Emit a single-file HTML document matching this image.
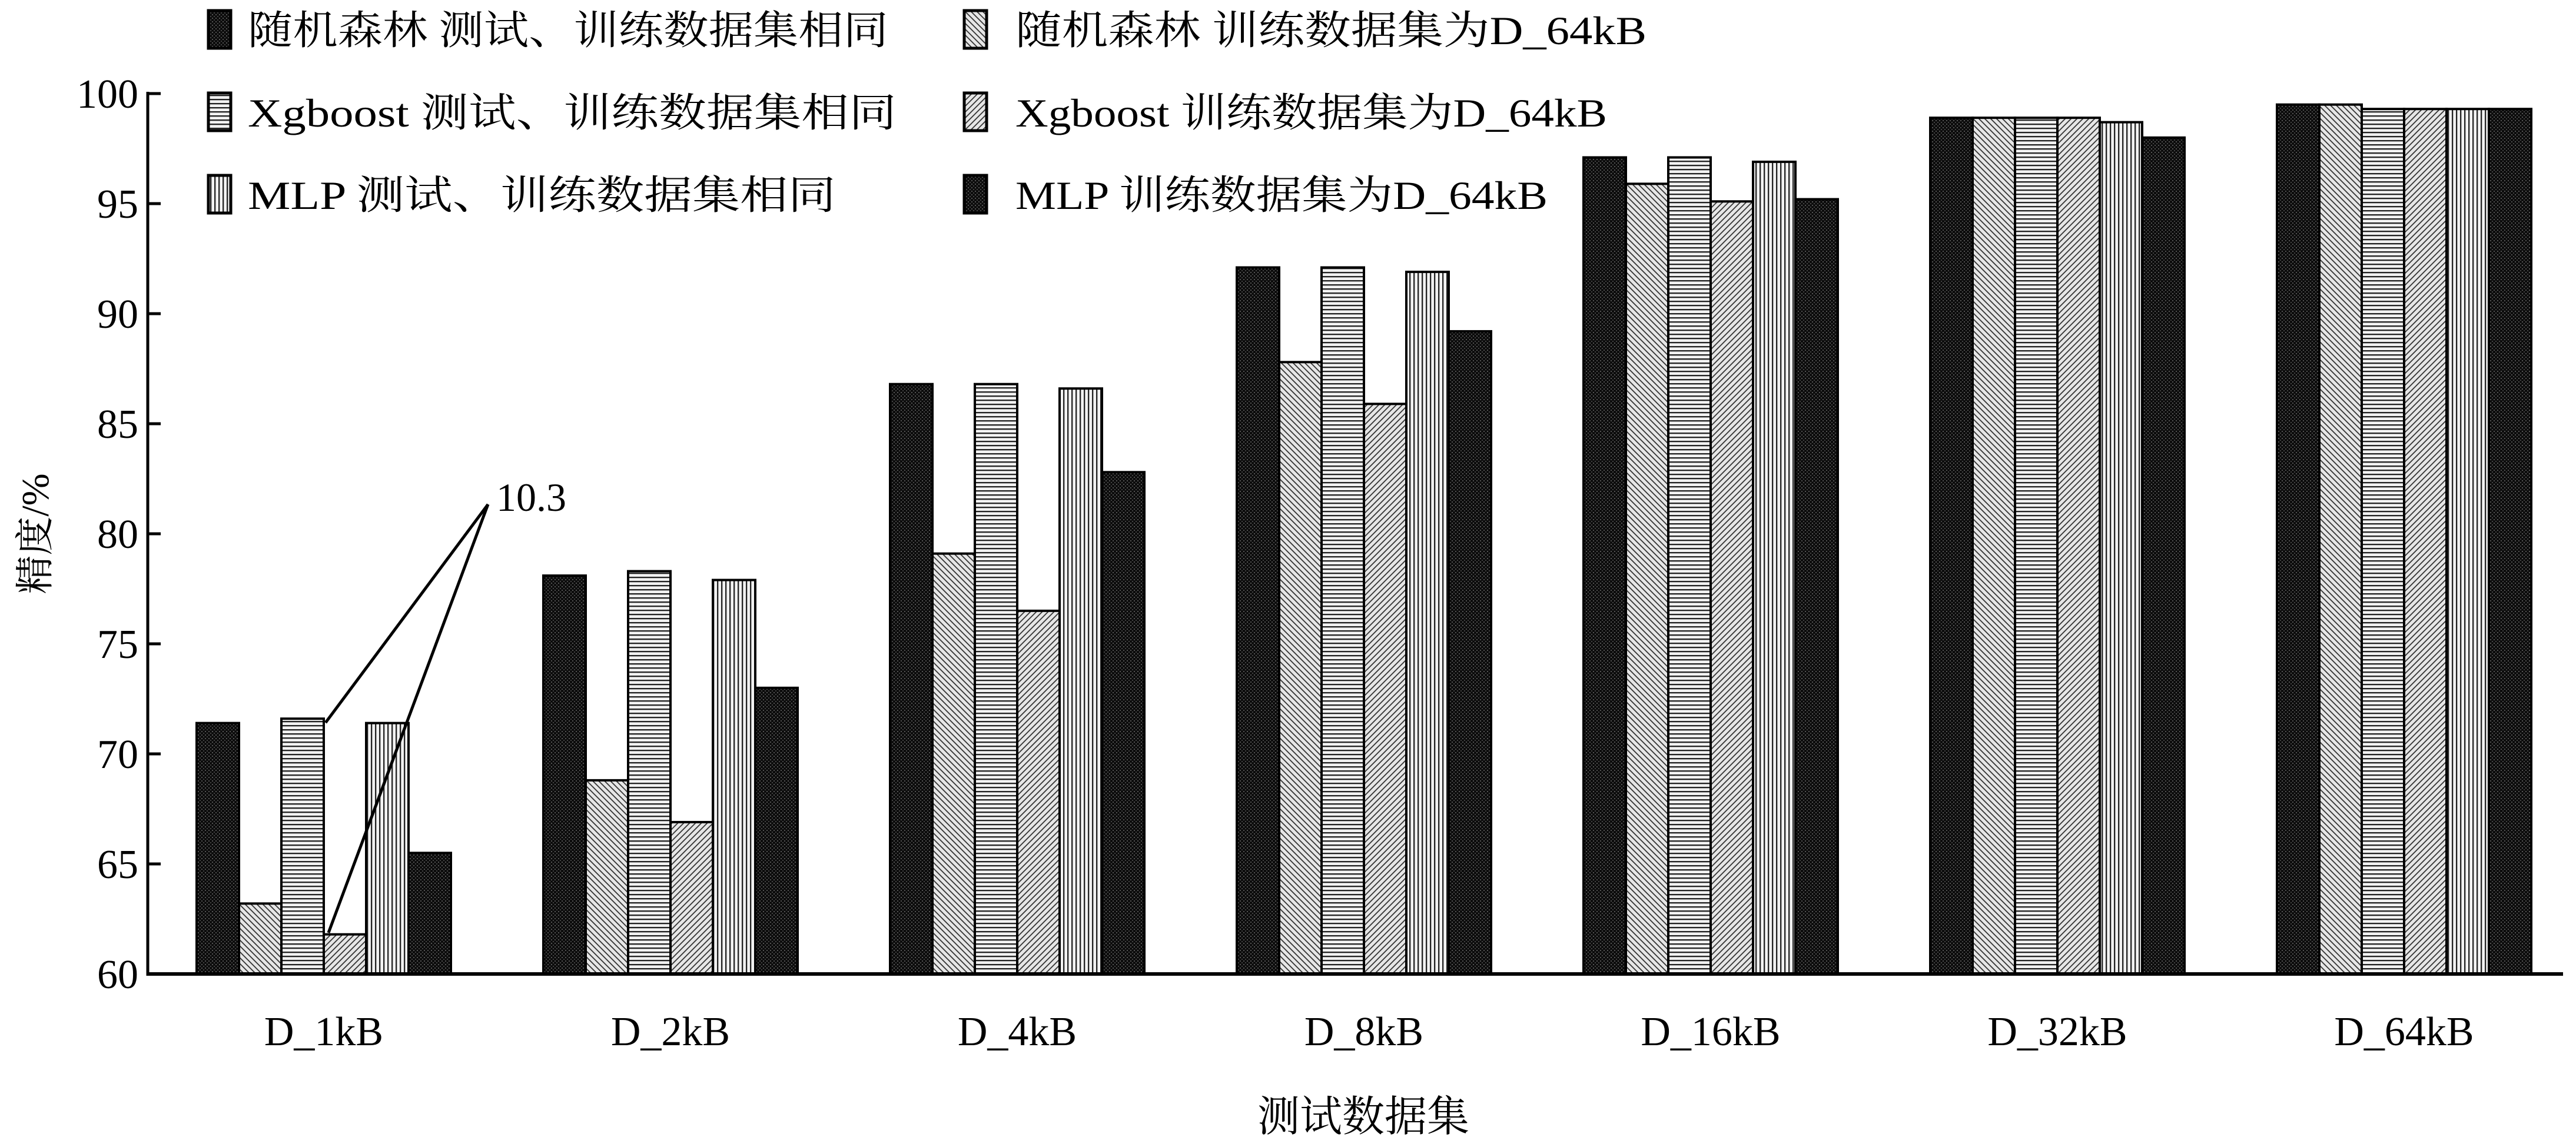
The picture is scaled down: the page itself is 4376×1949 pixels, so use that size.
<!DOCTYPE html>
<html><head><meta charset="utf-8"><style>
html,body{margin:0;padding:0;background:#fff;}
svg{display:block;}
text{font-family:"Liberation Serif","Noto Serif CJK SC","Noto Sans CJK SC",serif;fill:#000;}
</style></head><body>
<svg id="chart" width="4376" height="1949" viewBox="0 0 4376 1949" xmlns="http://www.w3.org/2000/svg">
<defs>
<pattern id="p-dark" patternUnits="userSpaceOnUse" width="6" height="6"><rect width="6" height="6" fill="#0c0c0c"/><rect x="0" y="0" width="2" height="2" fill="#555"/><rect x="3" y="3" width="2" height="2" fill="#444"/></pattern>
<pattern id="p-diag1" patternUnits="userSpaceOnUse" width="10" height="10"><rect width="10" height="10" fill="#e6e6e6"/><path d="M-2,-2 L12,12 M-2,8 L2,12 M8,-2 L12,2" stroke="#333" stroke-width="1.8"/></pattern>
<pattern id="p-horiz" patternUnits="userSpaceOnUse" width="8" height="7"><rect width="8" height="7" fill="#f2f2f2"/><rect y="0" width="8" height="2.3" fill="#222"/></pattern>
<pattern id="p-diag2" patternUnits="userSpaceOnUse" width="10" height="10"><rect width="10" height="10" fill="#e6e6e6"/><path d="M-2,12 L12,-2 M-2,2 L2,-2 M8,12 L12,8" stroke="#333" stroke-width="1.8"/></pattern>
<pattern id="p-vert" patternUnits="userSpaceOnUse" width="7" height="8"><rect width="7" height="8" fill="#f2f2f2"/><rect x="0" width="2.3" height="8" fill="#222"/></pattern>
</defs>
<g id="bars"></g>
<g id="axes"></g>
<g id="legend"></g>
<g>
<line x1="829" y1="857" x2="553" y2="1228" stroke="#000" stroke-width="5"/>
<line x1="829" y1="857" x2="558" y2="1585" stroke="#000" stroke-width="5"/>
<text x="843" y="868" font-size="68">10.3</text>
</g>
<text x="2316" y="1922" font-size="72" text-anchor="middle">测试数据集</text>
<text transform="translate(82,907) rotate(-90)" font-size="66" text-anchor="middle">精度/%</text>
</svg>
<script>
const categories = ["D_1kB","D_2kB","D_4kB","D_8kB","D_16kB","D_32kB","D_64kB"];
const seriesNames = ["随机森林 测试、训练数据集相同","随机森林 训练数据集为D_64kB","Xgboost 测试、训练数据集相同","Xgboost 训练数据集为D_64kB","MLP 测试、训练数据集相同","MLP 训练数据集为D_64kB"];
const rfSame = [71.4,78.1,86.8,92.1,97.1,98.9,99.5];
const rf64 = [63.2,68.8,79.1,87.8,95.9,98.9,99.5];
const xgSame = [71.6,78.3,86.8,92.1,97.1,98.9,99.3];
const xg64 = [61.8,66.9,76.5,85.9,95.1,98.9,99.3];
const mlpSame = [71.4,77.9,86.6,91.9,96.9,98.7,99.3];
const mlp64 = [65.5,73.0,82.8,89.2,95.2,98.0,99.3];
const yTicks = [60,65,70,75,80,85,90,95,100];

const series = [rfSame, rf64, xgSame, xg64, mlpSame, mlp64];
const fills = ["url(#p-dark)","url(#p-diag1)","url(#p-horiz)","url(#p-diag2)","url(#p-vert)","url(#p-dark)"];
const NS = "http://www.w3.org/2000/svg";
const X0 = 251, X1 = 4354, Y0 = 1655, Y1 = 159;
const yMin = 60, yMax = 100;
const groupStart = 550, groupStep = 589, barW = 72;
function yScale(v){ return Y0 - (v - yMin) / (yMax - yMin) * (Y0 - Y1); }
function xCenter(i){ return groupStart + i * groupStep; }
function mk(tag, attrs, parent){ const e = document.createElementNS(NS, tag); for (const k in attrs) e.setAttribute(k, attrs[k]); parent.appendChild(e); return e; }

const bars = document.getElementById('bars');
series.forEach((vals, s) => {
  vals.forEach((v, i) => {
    const x = xCenter(i) - 3 * barW + s * barW;
    const y = yScale(v);
    const r = mk('rect', {x: x, y: y, width: barW, height: Y0 - y, fill: fills[s], stroke: "#000", "stroke-width": 4}, bars);
    
    
  });
});

const axes = document.getElementById('axes');
const xa = mk('line', {x1: X0, y1: Y0, x2: X1, y2: Y0, stroke: "#000", "stroke-width": 6}, axes);


const ya = mk('line', {x1: X0, y1: Y0 + 3, x2: X0, y2: Y1 - 3, stroke: "#000", "stroke-width": 5}, axes);


yTicks.forEach(t => {
  const y = yScale(t);
  const tk = mk('line', {x1: X0, y1: y, x2: X0 + 22, y2: y, stroke: "#000", "stroke-width": 5}, axes);
  
  
  const lb = mk('text', {x: X0 - 16, y: y + 24, "font-size": 70, "text-anchor": "end"}, axes);
  lb.textContent = t;
  
  
});
categories.forEach((c, i) => {
  const lb = mk('text', {x: xCenter(i), y: 1776, "font-size": 70, "text-anchor": "middle"}, axes);
  lb.textContent = c;
  
  
});

const legend = document.getElementById('legend');
const legendPos = [[354,50],[1638,50],[354,190],[1638,190],[354,330],[1638,330]];
const legendLen = [1088,1072,1102,1005,999,904];
seriesNames.forEach((n, s) => {
  const [lx, ly] = legendPos[s];
  const g = mk('g', {}, legend);
  
  
  mk('rect', {x: lx, y: ly - 32, width: 38, height: 64, fill: fills[s], stroke: "#000", "stroke-width": 5}, g);
  const t = mk('text', {x: lx + 67 + (s % 2 ? 20 : 0), y: ly + 25, "font-size": 68, textLength: legendLen[s], lengthAdjust: "spacingAndGlyphs"}, g);
  t.textContent = n;
});
</script>
</body></html>
